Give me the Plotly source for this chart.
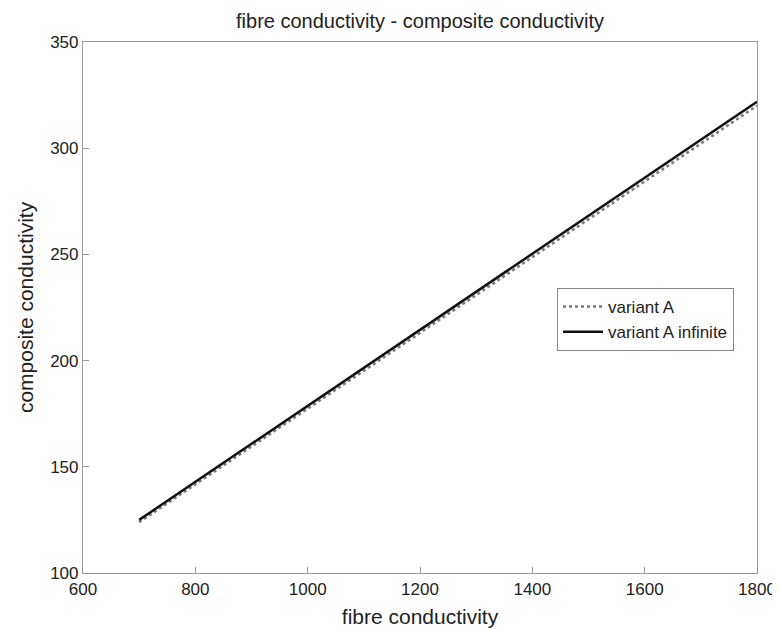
import plotly.graph_objects as go

fibre = [700, 800, 900, 1000, 1100, 1200, 1300, 1400, 1500, 1600, 1700, 1800]
variant_a = [123.9, 141.7, 159.5, 177.4, 195.2, 213.0, 230.8, 248.7, 266.5, 284.3, 302.1, 320.0]
variant_a_inf = [125.0, 142.9, 160.8, 178.7, 196.6, 214.5, 232.4, 250.3, 268.2, 286.1, 304.0, 321.9]
x_ticks = [600, 800, 1000, 1200, 1400, 1600, 1800]
y_ticks = [100, 150, 200, 250, 300, 350]

FONT = "Liberation Sans, Arial, Helvetica"

# page body has an 8px margin; the figure is sized to fill the rest of the window
W, H, OFF = 772, 621, 8

fig = go.Figure()
fig.add_trace(go.Scatter(x=fibre, y=variant_a, mode="lines", name="variant A",
                         line=dict(color="#7a7a7a", width=2.5, dash="dot")))
fig.add_trace(go.Scatter(x=fibre, y=variant_a_inf, mode="lines", name="variant A infinite",
                         line=dict(color="#111111", width=2.5)))

axis_common = dict(showgrid=False, zeroline=False, showline=True, linecolor="#9a9a9a",
                   linewidth=1.2, mirror=True, ticks="inside", ticklen=6, tickcolor="#9a9a9a",
                   tickwidth=1, automargin=False,
                   tickfont=dict(family=FONT, size=17, color="#222222"))

fig.update_xaxes(range=[600, 1800], tickvals=x_ticks,
                 title=dict(text="fibre conductivity", font=dict(family=FONT, size=21, color="#222222"), standoff=11),
                 **axis_common)
fig.update_yaxes(range=[100, 350], tickvals=y_ticks,
                 title=dict(text="composite conductivity", font=dict(family=FONT, size=21, color="#222222"), standoff=10),
                 **axis_common)

fig.update_layout(
    width=W, height=H,
    margin=dict(l=83 - OFF, r=23, t=42 - OFF, b=56, autoexpand=False),
    paper_bgcolor="white", plot_bgcolor="white",
    title=dict(text="fibre conductivity - composite conductivity", x=(420 - OFF) / W, xanchor="center",
               y=1 - (21 - OFF) / H, yanchor="middle", automargin=False,
               font=dict(family=FONT, size=20, color="#222222")),
    legend=dict(x=(557 - 83) / (757 - 83), y=(573 - 288) / (573 - 42), xanchor="left", yanchor="top",
                bgcolor="white", bordercolor="#888888", borderwidth=1,
                font=dict(family=FONT, size=17, color="#222222"),
                tracegroupgap=0, itemwidth=40),
    showlegend=True,
)

fig.write_html("out.html")
